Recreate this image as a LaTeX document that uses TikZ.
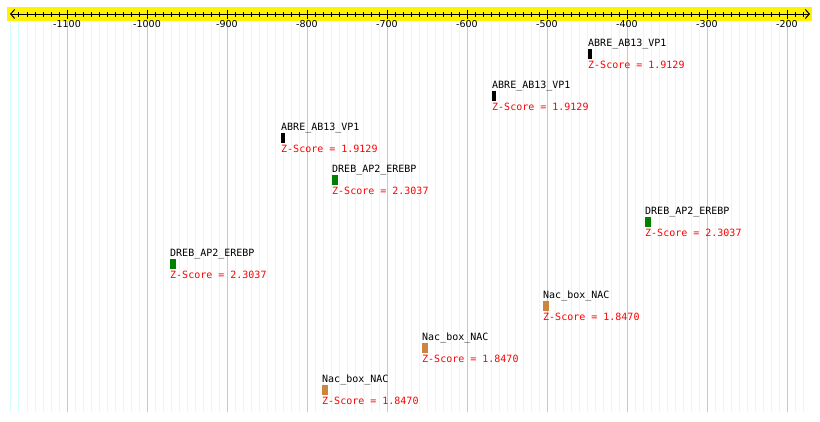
\documentclass[tikz,border=0pt]{standalone}
\usepackage{fontspec}
\setmainfont{DejaVu Sans}
\setmonofont{DejaVu Sans Mono}
\usepackage{xcolor}
\usepackage{tikz}
\usetikzlibrary{arrows.meta,positioning}

\definecolor{gridminor}{HTML}{D4FFFF}
\definecolor{gridmajor}{HTML}{C8C8C8}
\definecolor{abreblack}{HTML}{000000}
\definecolor{drebgreen}{HTML}{007F00}
\definecolor{nacbrown}{HTML}{CD853F}

\begin{document}
\begin{tikzpicture}[
  x=1pt, y=-1pt,
  font=\fontsize{10}{12}\selectfont\ttfamily,
  motif/.style={
    anchor=north west,
    inner sep=0pt,
    minimum height=10pt,
    minimum width=6pt
  },
  shortmotif/.style={motif, minimum width=4pt},
  mname/.style={inner sep=0pt, text=black},
  zscore/.style={inner sep=0pt, text=red},
  ticklabel/.style={font=\fontsize{9.5}{11}\selectfont\rmfamily, anchor=north, inner sep=0pt}
]
  \useasboundingbox[fill=white] (0,0) rectangle (820,421);

  % grid, one line every 10 bp
  \foreach \v in {-1170,-1160,...,-180}{
    \pgfmathsetmacro{\gx}{67+(\v+1100)*0.8}
    \draw[gridminor, line width=1pt] (\gx,21) -- (\gx,412);
  }
  \foreach \v in {-1100,-1000,...,-200}{
    \pgfmathsetmacro{\gx}{67+(\v+1100)*0.8}
    \draw[gridmajor, line width=1pt] (\gx,21) -- (\gx,412);
  }

  % ruler
  \fill[yellow] (7,7) rectangle (812,20.5);
  \coordinate (rl) at (10,14);
  \coordinate (rr) at (810,14);
  \draw[line width=1pt, {Straight Barb[length=4pt,width=9pt]}-{Straight Barb[length=4pt,width=9pt]}] (rl) -- (rr);
  \foreach \v in {-1160,-1150,...,-180}{
    \pgfmathsetmacro{\gx}{67+(\v+1100)*0.8}
    \draw[line width=1pt] (\gx,12) -- (\gx,17);
  }
  \foreach \v in {-1100,-1000,...,-200}{
    \pgfmathsetmacro{\gx}{67+(\v+1100)*0.8}
    \draw[line width=1pt] (\gx,9.5) -- (\gx,18.5);
    \node[ticklabel] (t\v) at (\gx,20) {\v};
  }

  % ABRE_AB13_VP1
  \node[shortmotif, fill=abreblack] (m1) at (588,49) {};
  \node[mname, above=-0.5pt of m1.north west, anchor=south west] (n1) {ABRE\_AB13\_VP1};
  \node[zscore, below=1pt of m1.south west, anchor=north west] (z1) {Z-Score = 1.9129};
  \node[shortmotif, fill=abreblack] (m2) at (492,91) {};
  \node[mname, above=-0.5pt of m2.north west, anchor=south west] (n2) {ABRE\_AB13\_VP1};
  \node[zscore, below=1pt of m2.south west, anchor=north west] (z2) {Z-Score = 1.9129};
  \node[shortmotif, fill=abreblack] (m3) at (281,133) {};
  \node[mname, above=-0.5pt of m3.north west, anchor=south west] (n3) {ABRE\_AB13\_VP1};
  \node[zscore, below=1pt of m3.south west, anchor=north west] (z3) {Z-Score = 1.9129};

  % DREB_AP2_EREBP
  \node[motif, fill=drebgreen] (m4) at (332,175) {};
  \node[mname, above=-0.5pt of m4.north west, anchor=south west] (n4) {DREB\_AP2\_EREBP};
  \node[zscore, below=1pt of m4.south west, anchor=north west] (z4) {Z-Score = 2.3037};
  \node[motif, fill=drebgreen] (m5) at (645,217) {};
  \node[mname, above=-0.5pt of m5.north west, anchor=south west] (n5) {DREB\_AP2\_EREBP};
  \node[zscore, below=1pt of m5.south west, anchor=north west] (z5) {Z-Score = 2.3037};
  \node[motif, fill=drebgreen] (m6) at (170,259) {};
  \node[mname, above=-0.5pt of m6.north west, anchor=south west] (n6) {DREB\_AP2\_EREBP};
  \node[zscore, below=1pt of m6.south west, anchor=north west] (z6) {Z-Score = 2.3037};

  % Nac_box_NAC
  \node[motif, fill=nacbrown] (m7) at (543,301) {};
  \node[mname, above=-0.5pt of m7.north west, anchor=south west] (n7) {Nac\_box\_NAC};
  \node[zscore, below=1pt of m7.south west, anchor=north west] (z7) {Z-Score = 1.8470};
  \node[motif, fill=nacbrown] (m8) at (422,343) {};
  \node[mname, above=-0.5pt of m8.north west, anchor=south west] (n8) {Nac\_box\_NAC};
  \node[zscore, below=1pt of m8.south west, anchor=north west] (z8) {Z-Score = 1.8470};
  \node[motif, fill=nacbrown] (m9) at (322,385) {};
  \node[mname, above=-0.5pt of m9.north west, anchor=south west] (n9) {Nac\_box\_NAC};
  \node[zscore, below=1pt of m9.south west, anchor=north west] (z9) {Z-Score = 1.8470};
\end{tikzpicture}
\end{document}
